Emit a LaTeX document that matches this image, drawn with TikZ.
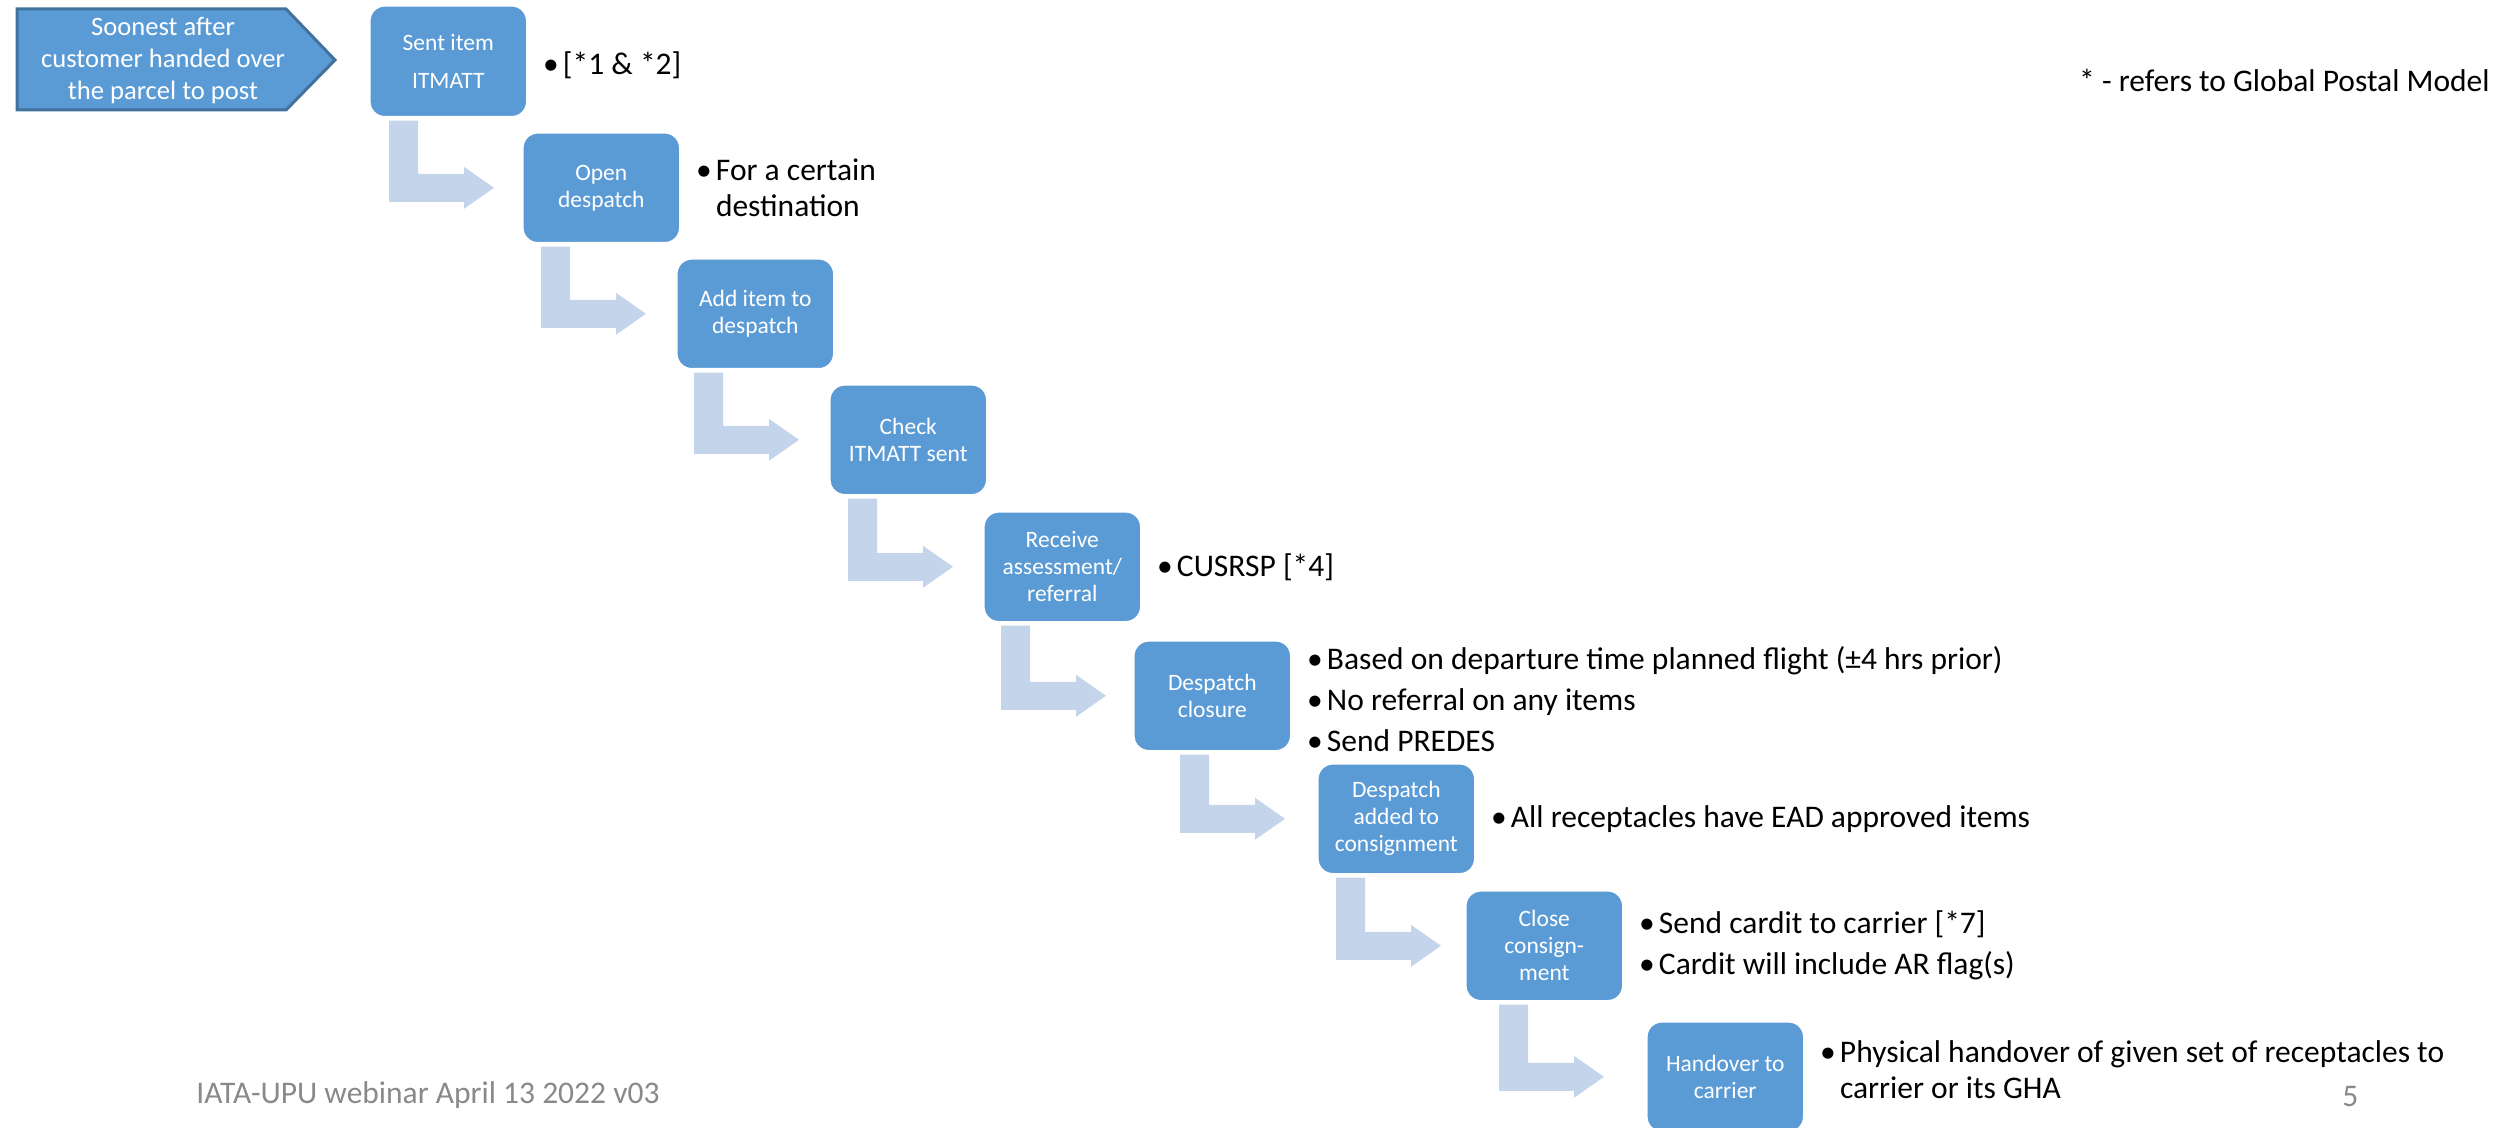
\documentclass[tikz,border=0pt]{standalone}
\usepackage{fontspec}
\setmainfont{Carlito}
\usetikzlibrary{calc}

\definecolor{boxblue}{HTML}{5B9BD5}
\definecolor{edgeblue}{HTML}{41719C}
\definecolor{flowblue}{HTML}{C4D5EB}
\definecolor{footgray}{HTML}{898989}

% bullet with hanging indent
\newcommand\bul{\makebox[10pt][l]{\textbullet}}

% bent (down, then right) arrow between two steps; #3 = stem offset from the source's left edge
\newcommand\bentarrow[3]{%
  \fill[flowarrow] let \p1=($(#1.south west)+(#3,0)$), \p2=(#2.west) in
    (\x1,{\y1-1.5pt}) -- ({\x1+14.5pt},{\y1-1.5pt}) -- ({\x1+14.5pt},{\y2+7pt})
    -- ({\x1+37.5pt},{\y2+7pt}) -- ({\x1+37.5pt},{\y2+10.5pt}) -- ({\x1+52.5pt},\y2)
    -- ({\x1+37.5pt},{\y2-10.5pt}) -- ({\x1+37.5pt},{\y2-7pt}) -- (\x1,{\y2-7pt}) -- cycle;}

\begin{document}
\begin{tikzpicture}[x=0.5pt,y=-0.5pt,
  stepbox/.style={rectangle, rounded corners=7.5pt, fill=boxblue, draw=white,
    line width=0.8pt, minimum width=78.5pt, minimum height=55pt, inner sep=0pt,
    align=center, text=white, font=\fontsize{11.75pt}{13.5pt}\selectfont, anchor=north west},
  note/.style={anchor=west, inner sep=0pt, align=left,
    font=\fontsize{15.75pt}{18pt}\selectfont},
  flowarrow/.style={fill=flowblue},
]
\useasboundingbox (0,0) rectangle (2511,1128);

% starting tag
\filldraw[fill=boxblue, draw=edgeblue, line width=1.5pt]
  (17,9) -- (286,9) -- (335,60) -- (286,110) -- (17,110) -- cycle;
\node[text=white, align=center, inner sep=0pt, font=\fontsize{13.3pt}{16pt}\selectfont]
  (start) at (163,61) {Soonest after\\customer handed over\\the parcel to post};

% process steps
\node[stepbox, minimum height=55.5pt] (s1) at (369,5) {Sent item\\[5.5pt]ITMATT};
\node[stepbox] (s2) at (522,132) {Open\\despatch};
\node[stepbox] (s3) at (676,258) {Add item to\\despatch};
\node[stepbox] (s4) at (829,384) {Check\\ITMATT sent};
\node[stepbox] (s5) at (983,511) {Receive\\assessment/\\referral};
\node[stepbox] (s6) at (1133,640) {Despatch\\closure};
\node[stepbox] (s7) at (1317,763) {Despatch\\added to\\consignment};
\node[stepbox] (s8) at (1465,890) {Close\\consign-\\ment};
\node[stepbox] (s9) at (1646,1021) {Handover to\\carrier};

% connectors
\bentarrow{s1}{s2}{20}
\bentarrow{s2}{s3}{19}
\bentarrow{s3}{s4}{18}
\bentarrow{s4}{s5}{19}
\bentarrow{s5}{s6}{18}
\bentarrow{s6}{s7}{47}
\bentarrow{s7}{s8}{19}
\bentarrow{s8}{s9}{34}

% remarks
\node[note] (n1) at ($(s1.east)+(15,4)$) {\bul[*1 \& *2]};
\node[note] (n2) at ($(s2.east)+(15,0)$) {\bul For a certain\\\hspace*{10pt}destination};
\node[note] (n5) at ($(s5.east)+(15,0)$) {\bul CUSRSP [*4]};
\node[note] (n6) at ($(s6.east)+(15,3)$) {\bul Based on departure time planned flight (±4 hrs prior)\\[2.5pt]\bul No referral on any items\\[2.5pt]\bul Send PREDES};
\node[note] (n7) at ($(s7.east)+(15,0)$) {\bul All receptacles have EAD approved items};
\node[note] (n8) at ($(s8.east)+(15,0)$) {\bul Send cardit to carrier [*7]\\[2.5pt]\bul Cardit will include AR flag(s)};
\node[note] (n9) at ($(s9.east)+(15,-7)$) {\bul Physical handover of given set of receptacles to\\\hspace*{10pt}carrier or its GHA};

\node[note, anchor=east] (gpm) at (2490,80) {* - refers to Global Postal Model};
\node[note, text=footgray] (foot) at (196,1095) {IATA-UPU webinar April 13 2022 v03};
\node[note, text=footgray] (pg) at (2342,1096) {5};
\end{tikzpicture}
\end{document}
